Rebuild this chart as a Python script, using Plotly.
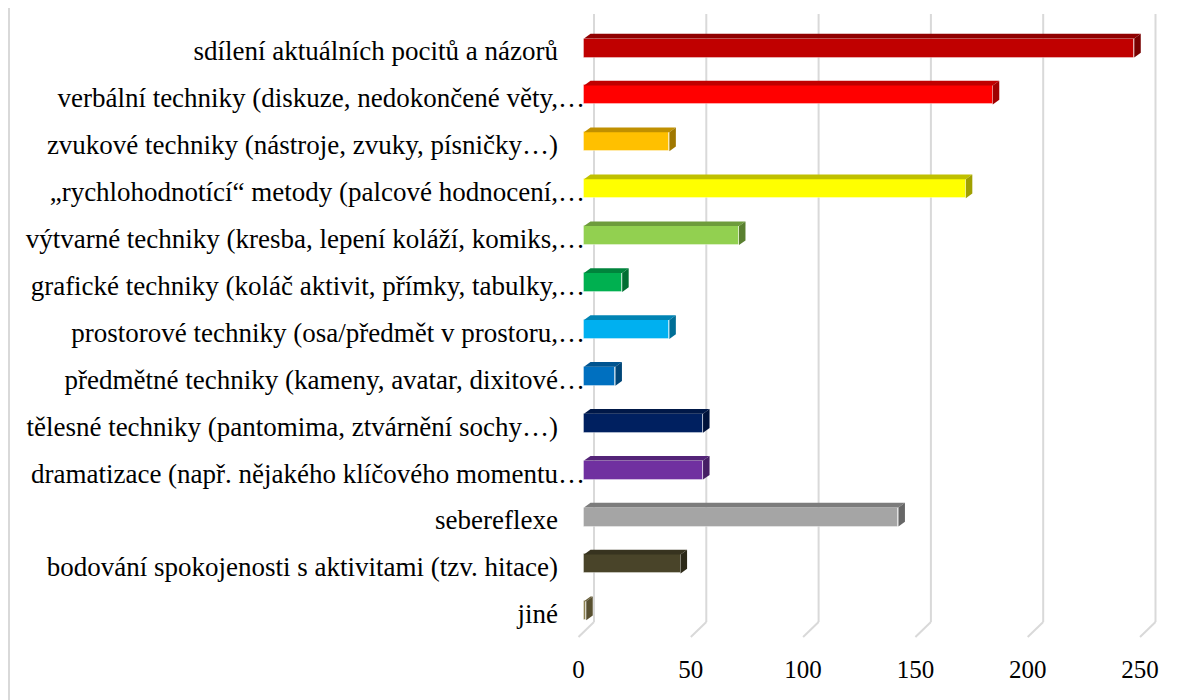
import plotly.graph_objects as go

categories = [
    "sdílení aktuálních pocitů a názorů",
    "verbální techniky (diskuze, nedokončené věty,…",
    "zvukové techniky (nástroje, zvuky, písničky…)",
    "„rychlohodnotící“ metody (palcové hodnocení,…",
    "výtvarné techniky (kresba, lepení koláží, komiks,…",
    "grafické techniky (koláč aktivit, přímky, tabulky,…",
    "prostorové techniky (osa/předmět v prostoru,…",
    "předmětné techniky (kameny, avatar, dixitové…",
    "tělesné techniky (pantomima, ztvárnění sochy…)",
    "dramatizace (např. nějakého klíčového momentu…",
    "sebereflexe",
    "bodování spokojenosti s aktivitami (tzv. hitace)",
    "jiné",
]
values = [245, 182, 38, 170, 69, 17, 38, 14, 53, 53, 140, 43, 1]
front_colors = ["#C00000", "#FF0000", "#FFC000", "#FFFF00", "#92D050", "#00B050",
                "#00B0F0", "#0070C0", "#002060", "#7030A0", "#A5A5A5", "#494429", "#8C8150"]
top_colors = ["#900000", "#C00000", "#C09000", "#C0C000", "#6E9C3C", "#00843C",
              "#0084B4", "#005490", "#001848", "#542478", "#7C7C7C", "#37331F", "#6A613C"]
side_colors = ["#780000", "#A00000", "#A07800", "#A0A000", "#5A8030", "#006E32",
               "#006E96", "#004678", "#00123A", "#461E64", "#676767", "#2C2918", "#585030"]
tick_values = [0, 50, 100, 150, 200, 250]

W, H = 1200, 700
OFF = 8          # page body margin
K = 2.246        # px per unit
PX0 = 584 - OFF  # px of value 0 on bar front plane
ROW = 46.9       # px per category row
ROW0 = 48 - OFF  # px centre of first row
X_L, X_R = 560 - OFF, 1180 - OFF
Y_T, Y_B = 10 - OFF, 660 - OFF
HALF = 9.5 / ROW
DX = 6.5 / K
DY = 4.7 / ROW
FLOOR = 5.5 / K  # label plane sits in front of bar plane

n = len(categories)
idx = list(range(n))

fig = go.Figure()

fig.add_trace(go.Bar(
    x=values, y=idx, orientation="h", width=2 * HALF,
    marker=dict(color=front_colors, line=dict(color="rgba(255,255,255,0.35)", width=1)),
    hoverinfo="x+y", showlegend=False,
))

for i, v in enumerate(values):
    yt = i - HALF
    yb = i + HALF
    fig.add_trace(go.Scatter(
        x=[0, v, v + DX, DX, 0], y=[yt, yt, yt - DY, yt - DY, yt],
        fill="toself", fillcolor=top_colors[i], mode="lines",
        line=dict(width=0, color=top_colors[i]), hoverinfo="skip", showlegend=False))
    fig.add_trace(go.Scatter(
        x=[v, v + DX, v + DX, v, v], y=[yt, yt - DY, yb - DY, yb, yt],
        fill="toself", fillcolor=side_colors[i], mode="lines",
        line=dict(width=0, color=side_colors[i]), hoverinfo="skip", showlegend=False))

shapes = []
for v in tick_values:
    xb = PX0 + v * K + 10
    shapes.append(dict(type="line", xref="paper", yref="paper", layer="below",
                       x0=xb / W, x1=xb / W, y0=1 - (14 - OFF) / H, y1=1 - (622 - OFF) / H,
                       line=dict(color="#D9D9D9", width=2)))
    shapes.append(dict(type="line", xref="paper", yref="paper", layer="below",
                       x0=xb / W, x1=(xb - 15.5) / W, y0=1 - (622 - OFF) / H, y1=1 - (637 - OFF) / H,
                       line=dict(color="#D9D9D9", width=2)))
shapes.append(dict(type="line", xref="paper", yref="paper", layer="below",
                   x0=1 / W, x1=1 / W, y0=0, y1=1, line=dict(color="#D9D9D9", width=2)))

ticktext = [c if c.endswith("…") else c + "\u00a0" * 4 for c in categories]

SERIF = "Liberation Serif"
xr = [(X_L - PX0) / K, (X_R - PX0) / K]

fig.update_layout(
    width=W, height=H,
    margin=dict(l=0, r=0, t=0, b=0),
    paper_bgcolor="white", plot_bgcolor="rgba(0,0,0,0)",
    font=dict(family=SERIF, size=27, color="#000000"),
    shapes=shapes,
    bargap=0,
    xaxis=dict(
        domain=[X_L / W, X_R / W], range=xr,
        showticklabels=False, showgrid=False, zeroline=False, showline=False, ticks="",
    ),
    xaxis2=dict(
        domain=[X_L / W, X_R / W], range=[xr[0] + FLOOR, xr[1] + FLOOR],
        overlaying="x", side="bottom",
        tickvals=tick_values, ticktext=[str(t) for t in tick_values],
        showgrid=False, zeroline=False, showline=False, ticks="",
        anchor="free", position=1 - (652 - OFF) / H,
        tickfont=dict(family=SERIF, size=25),
    ),
    yaxis=dict(
        domain=[1 - Y_B / H, 1 - Y_T / H],
        range=[(Y_B - ROW0) / ROW, (Y_T - ROW0) / ROW],
        tickvals=idx, ticktext=ticktext,
        showgrid=False, zeroline=False, showline=False, ticks="",
        anchor="free", position=(585 - OFF) / W,
        ticklabelshift=-3,
        tickfont=dict(family=SERIF, size=27),
    ),
)
# invisible trace so xaxis2 is drawn
fig.add_trace(go.Scatter(x=[tick_values[0]], y=[idx[0]], xaxis="x2", mode="markers",
                         marker=dict(opacity=0), hoverinfo="skip", showlegend=False))

fig.write_html("out.html")
